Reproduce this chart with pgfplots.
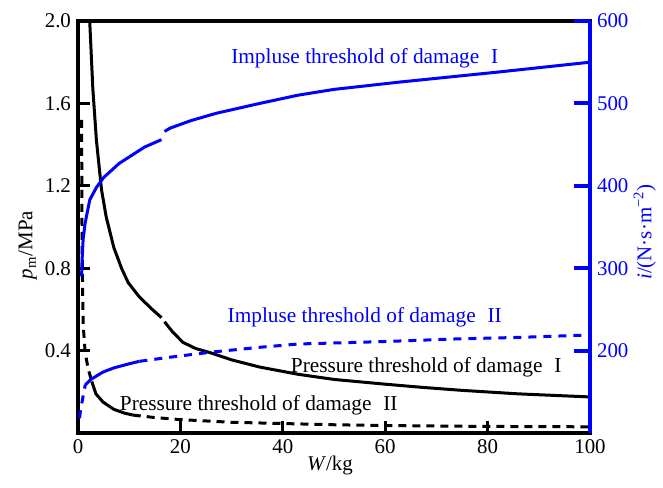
\documentclass[border=0pt]{standalone}
\usepackage{pgfplots}
\pgfplotsset{compat=1.18}
\usepackage{fontspec}
\setmainfont{Liberation Serif}
\definecolor{pblue}{RGB}{0,0,255}
\begin{document}
\fontsize{10}{12}\selectfont
\begin{tikzpicture}
\begin{axis}[
  name=a, scale only axis, width=256bp, height=206bp,
  xmin=0, xmax=100, ymin=0, ymax=2,
  xtick={0,20,40,60,80,100},
  ytick={0.4,0.8,1.2,1.6,2.0},
  yticklabels={0.4,0.8,1.2,1.6,2.0},
  xtick pos=bottom, ytick pos=left, tick align=inside,
  major tick length=6bp,
  axis line style={line width=1.6bp},
  tick style={line width=1.6bp, black},
  every tick label/.append style={font=\fontsize{10.5}{12}\selectfont},
  /pgf/number format/assume math mode=true,
  xlabel={\textit{W}/kg},
  ylabel={\textit{p}\textsubscript{m}/MPa},
  xlabel style={at={(axis description cs:0.492,-0.08)}, anchor=center, font=\fontsize{10.5}{12}\selectfont},
  ylabel style={at={(axis description cs:-0.098,0.456)}, anchor=center, font=\fontsize{10.5}{12}\selectfont},
  clip=true,
]
% Pressure threshold I (solid)
\addplot[black, line width=1.5bp] coordinates {
 (2.25,2.02) (2.9,1.67) (3.6,1.42) (4.6,1.18) (5.5,1.05) (7,0.90) (8.5,0.80) (9.8,0.73)
 (12,0.66) (14.5,0.60) (16.3,0.56)};
\addplot[black, line width=1.5bp] coordinates {
 (16.9,0.54) (18.5,0.49) (20.5,0.44) (23,0.41) (25.8,0.39) (30,0.355) (35.5,0.32)
 (43,0.285) (50,0.26) (60,0.237) (67,0.222) (75,0.207) (86,0.19) (100,0.175)};
% Pressure threshold II
\addplot[black, line width=1.5bp, dash pattern=on 4bp off 3bp] coordinates {
 (0.7,1.52) (0.75,1.2) (0.8,0.9) (0.9,0.7) (1.0,0.53) (1.4,0.39) (2.0,0.31) (2.7,0.25)};
\addplot[black, line width=1.5bp] coordinates {
 (2.7,0.25) (3.5,0.19) (4.9,0.15) (7,0.115) (9,0.097) (10.7,0.087)};
\addplot[black, line width=1.5bp, dash pattern=on 4bp off 3bp] coordinates {
 (10.7,0.087) (15,0.075) (20,0.065) (30,0.052) (40,0.046) (50,0.040) (60,0.036) (80,0.032) (100,0.030)};
% labels
\node[pblue, font=\fontsize{10.7}{12}\selectfont] at (axis cs:56,1.82) {Impluse threshold of damage\hspace{0.55em}I};
\node[pblue, font=\fontsize{10.7}{12}\selectfont] at (axis cs:56,0.563) {Impluse threshold of damage\hspace{0.55em}II};
\node[black, font=\fontsize{10.7}{12}\selectfont] at (axis cs:68,0.32) {Pressure threshold of damage\hspace{0.55em}I};
\node[black, font=\fontsize{10.7}{12}\selectfont] at (axis cs:35.3,0.136) {Pressure threshold of damage\hspace{0.55em}II};
\end{axis}
\begin{axis}[
  scale only axis, width=256bp, height=206bp,
  xmin=0, xmax=100, ymin=100, ymax=600,
  axis x line=none, axis y line*=right,
  ytick={200,300,400,500,600},
  tick align=inside, major tick length=8bp,
  y axis line style={pblue, line width=2bp},
  ytick style={pblue, line width=2bp},
  yticklabel style={pblue, font=\fontsize{10.5}{12}\selectfont},
  /pgf/number format/assume math mode=true,
  ylabel={\textit{i}/(N·s·m\textsuperscript{−2})},
  ylabel style={pblue, at={(axis description cs:1.107,0.488)}, anchor=center, font=\fontsize{10.5}{12}\selectfont},
  clip=true,
]
% Impulse threshold I
\addplot[pblue, line width=1.5bp] coordinates {
 (0.7,290) (0.8,310) (1.0,335) (1.4,355) (2.3,383) (3.6,398) (5,410) (6.25,417) (8,427)
 (10,435) (13,447) (16.3,456)};
\addplot[pblue, line width=1.5bp] coordinates {
 (16.9,466) (18,470) (22,479) (27,488) (35.5,500) (43,510) (50,517) (63,526) (82,538) (100,550)};
% Impulse threshold II
\addplot[pblue, line width=1.5bp, dash pattern=on 4bp off 3.5bp] coordinates {
 (0.3,118) (0.5,128) (1.4,158)};
\addplot[pblue, line width=1.5bp] coordinates {
 (1.4,158) (2.5,165) (4.9,174) (7,179) (10,184) (12,187)};
\addplot[pblue, line width=1.5bp, dash pattern=on 4bp off 3.5bp] coordinates {
 (12,187) (18,192) (25.8,198) (35.5,204) (43,208) (60,211) (73,214) (86,216) (100,219)};
\end{axis}
\pgfresetboundingbox
\path[use as bounding box] (-39bp,-27.5bp) rectangle (292.5bp,216.5bp);
\end{tikzpicture}
\end{document}
